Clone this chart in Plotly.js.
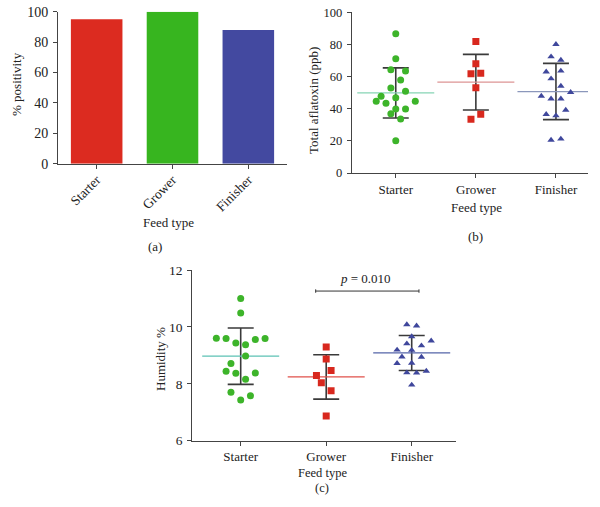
<!DOCTYPE html>
<html>
<head>
<meta charset="utf-8">
<script src="https://cdn.plot.ly/plotly-3.0.1.min.js"></script>
<style>
  html, body { margin: 0; padding: 0; background: #fff; }
  #chart { width: 600px; height: 507px; }
</style>
</head>
<body>
<div id="chart"></div>
<script>
var categories = ['Starter', 'Grower', 'Finisher'];

// (a) % positivity per feed type
var positivity = [95, 100, 88];

// (b) total aflatoxin (ppb), with the column slot each dot sits in
var aflaStarter = [86.7, 71.1, 64.3, 63.5, 57.9, 52.9, 50.8, 47.7, 46.9, 44.6, 44.6, 43.4, 39.8, 39.8, 36.9, 33.6, 20.1];
var aflaStarterSlot = [0, 0, -1, 2, 1, -1, 2, -3, 0, -4, 4, -2, 0, 2, -1, 1, 0];
var aflaGrower = [81.9, 68.0, 61.8, 62.0, 53.1, 36.5, 33.4];
var aflaGrowerSlot = [0, 0, -1, 1, 0, 1, -1];
var aflaFinisher = [80.1, 72.4, 70.3, 63.0, 63.5, 58.7, 54.1, 50.2, 47.9, 46.2, 46.2, 39.2, 36.5, 35.7, 20.5, 21.2];
var aflaFinisherSlot = [0, -1, 1, -2, 1, -1, 1, 3, -3, -1, 1, 2, -2, 0, -1, 1];
var aflaMean = [49.8, 56.5, 50.7];
var aflaSD = [15.6, 17.3, 17.5];

// (c) humidity %
var humStarter = [11.0, 10.49, 9.60, 9.59, 9.43, 9.37, 9.56, 9.59, 8.98, 8.71, 8.44, 8.37, 8.38, 8.16, 7.70, 7.58, 7.43];
var humStarterSlot = [0, 0, -5, -3, -1, 1, 3, 5, 1, -2, -3, -1, 3, 1, -2, 2, 0];
var humGrower = [9.29, 8.87, 8.47, 8.29, 8.04, 7.76, 6.87];
var humGrowerSlot = [0, 0, 1, -2, -1, 1, 0];
var humFinisher = [10.08, 10.04, 9.66, 9.41, 9.51, 9.34, 9.19, 9.18, 8.95, 8.94, 8.72, 8.73, 8.39, 8.38, 8.45, 7.96];
var humFinisherSlot = [-1, 1, 0, -1, 4, 2, -3, 0, -2, 2, -3, 0, -1, 1, 3, 0];
var humMean = [8.97, 8.24, 9.085];
var humSD = [0.99, 0.78, 0.615];

var pLabel = '<i>p</i> = 0.010';

var W = 600, H = 507;
var FONT = 'Liberation Serif, Times New Roman, serif';
var AX = '#444';

var barColors = ['#dc2b20', '#37b51f', '#4349a0'];
var dotColors = ['#3db42a', '#d8281e', '#3f479c'];
var symbols = ['circle', 'square', 'triangle-up'];
var meanColors = {
  b: ['#86d4b4', '#dd9494', '#8b97bb'],
  c: ['#5cc2b4', '#e0504a', '#5565a8']
};

function px(x) { return x / W; }
function py(y) { return 1 - y / H; }

var data = [];

data.push({
  type: 'bar',
  x: categories,
  y: positivity,
  width: 0.68,
  marker: {color: barColors},
  xaxis: 'x', yaxis: 'y',
  hoverinfo: 'x+y'
});

function addDots(ax, ay, groups, slots, means, sds, mColors, step) {
  // mean line + SD whiskers first, dots on top
  for (var i = 0; i < groups.length; i++) {
    data.push({
      type: 'scatter', mode: 'markers',
      x: [i], y: [means[i]],
      xaxis: ax, yaxis: ay,
      marker: {symbol: 'line-ew', size: 55, line: {color: mColors[i], width: 1.3}},
      error_y: {type: 'data', array: [sds[i]], visible: true, width: 13, thickness: 1.6, color: '#3a3a3a'},
      hoverinfo: 'y'
    });
  }
  for (var g = 0; g < groups.length; g++) {
    data.push({
      type: 'scatter', mode: 'markers',
      x: slots[g].map(function(s) { return g + s * step; }),
      y: groups[g],
      xaxis: ax, yaxis: ay,
      marker: {symbol: symbols[g], size: g === 2 ? 6.5 : 7, color: dotColors[g]},
      hoverinfo: 'y'
    });
  }
}

addDots('x2', 'y2',
  [aflaStarter, aflaGrower, aflaFinisher],
  [aflaStarterSlot, aflaGrowerSlot, aflaFinisherSlot],
  aflaMean, aflaSD, meanColors.b, 0.061);

addDots('x3', 'y3',
  [humStarter, humGrower, humFinisher],
  [humStarterSlot, humGrowerSlot, humFinisherSlot],
  humMean, humSD, meanColors.c, 0.057);

function axisBase(size, extra) {
  var a = {
    showline: true, linecolor: AX, linewidth: 1,
    ticks: 'outside', ticklen: 4, tickcolor: AX, tickwidth: 1,
    showgrid: false, zeroline: false, fixedrange: true,
    tickfont: {family: FONT, size: size, color: '#222'}
  };
  for (var k in extra) a[k] = extra[k];
  return a;
}

var catTicks = {tickmode: 'array', tickvals: [0, 1, 2], ticktext: categories};

var layout = {
  width: W, height: H,
  margin: {l: 0, r: 0, t: 0, b: 0},
  paper_bgcolor: '#fff', plot_bgcolor: '#fff',
  showlegend: false,
  font: {family: FONT, size: 13, color: '#222'},

  xaxis: axisBase(13.5, {domain: [px(58), px(287)], range: [-0.51, 2.51], type: 'category',
    tickangle: -45, anchor: 'y', ticklabelstandoff: -2}),
  yaxis: axisBase(14, {domain: [py(163.7), py(11.7)], range: [0, 100], dtick: 20, anchor: 'x',
    ticklabelstandoff: 2}),

  xaxis2: axisBase(13, Object.assign({domain: [px(351.7), px(588)], range: [-0.55, 2.4], anchor: 'y2'}, catTicks)),
  yaxis2: axisBase(12.5, {domain: [py(173), py(12.3)], range: [0, 100], dtick: 20, anchor: 'x2',
    ticklabelstandoff: 2}),

  xaxis3: axisBase(13, Object.assign({domain: [px(192.3), px(456)], range: [-0.566, 2.518], anchor: 'y3'}, catTicks)),
  yaxis3: axisBase(13.5, {domain: [py(440.7), py(270)], range: [6, 12], dtick: 2, anchor: 'x3',
    ticklabelstandoff: 2}),

  shapes: [
    {type: 'line', xref: 'x3', yref: 'y3', x0: 0.877, x1: 2.085, y0: 11.26, y1: 11.26,
      line: {color: '#333', width: 1}},
    {type: 'line', xref: 'x3', yref: 'y3', x0: 0.877, x1: 0.877, y0: 11.2, y1: 11.32,
      line: {color: '#333', width: 1}},
    {type: 'line', xref: 'x3', yref: 'y3', x0: 2.085, x1: 2.085, y0: 11.2, y1: 11.32,
      line: {color: '#333', width: 1}}
  ],

  annotations: []
};

function note(text, x, y, angle, size) {
  layout.annotations.push({
    text: text, xref: 'paper', yref: 'paper', x: px(x), y: py(y),
    xanchor: 'center', yanchor: 'middle', showarrow: false, textangle: angle || 0,
    font: {family: FONT, size: size || 13, color: '#222'}
  });
}

// axis titles and panel letters
note('% positivity', 17, 84, -90);
note('Feed type', 168, 222);
note('(a)', 155, 246);
note('Total aflatoxin (ppb)', 313, 100, -90);
note('Feed type', 476.7, 207);
note('(b)', 475, 237);
note('Humidity %', 160, 359, -90);
note('Feed type', 322.7, 472.5, 0, 12.5);
note('(c)', 322.3, 488, 0, 12.5);

layout.annotations.push({
  text: pLabel, xref: 'x3', yref: 'y3', x: 1.462, y: 11.7,
  xanchor: 'center', yanchor: 'middle', showarrow: false,
  font: {family: FONT, size: 13, color: '#222'}
});

Plotly.newPlot('chart', data, layout, {staticPlot: true, displayModeBar: false});
</script>
</body>
</html>
